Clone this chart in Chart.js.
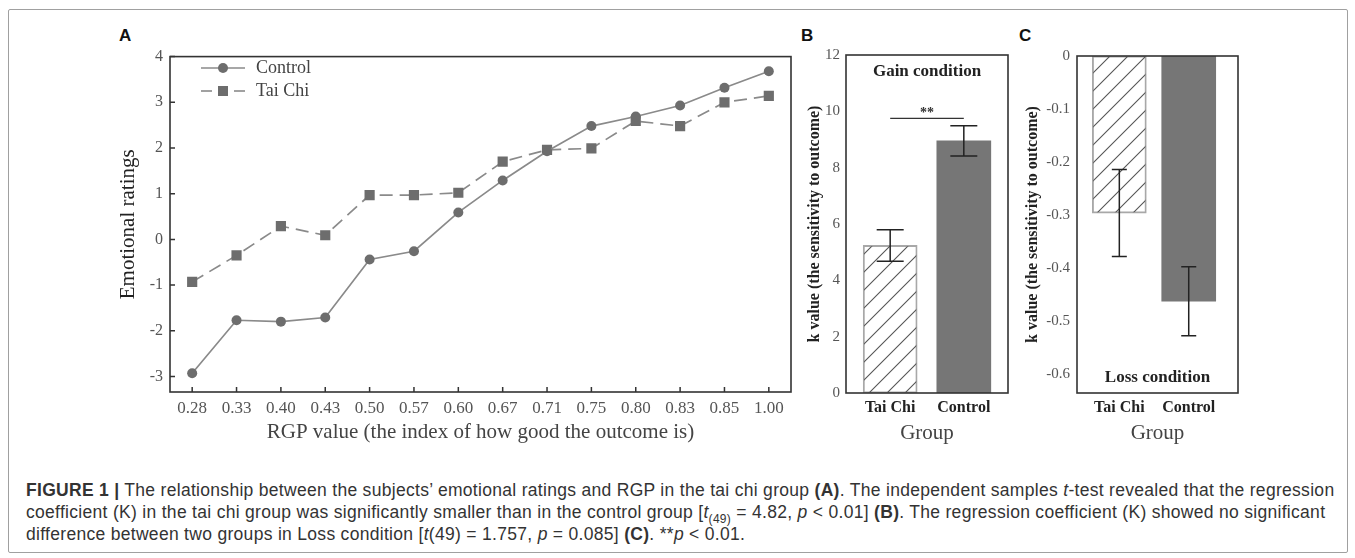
<!DOCTYPE html>
<html>
<head>
<meta charset="utf-8">
<style>
	body { margin: 0; background: #fff; }
	#fig { position: relative; width: 1355px; height: 558px; overflow: hidden; }
	.frame { position: absolute; left: 8px; top: 9px; width: 1338px; height: 542px; border: 1px solid #a0a0a0; border-radius: 2px; }
	.panel { position: absolute; }
	.letter { position: absolute; font: bold 17px "Liberation Sans", Arial, sans-serif; color: #111; }
	.legend { position: absolute; left: 200px; top: 56px; font: 18px "Liberation Serif", "Times New Roman", serif; color: #444; }
	.legend div { height: 23px; display: flex; align-items: center; }
	.legend svg { margin-right: 10px; }
	.caption { position: absolute; left: 26px; top: 479px; font: 17.5px "Liberation Sans", Arial, sans-serif; letter-spacing: 0.3px; color: #333; line-height: 22px; white-space: nowrap; }
	.caption sub { font-size: 12px; line-height: 0; }
</style>
</head>
<body>
<div id="fig">
	<div class="frame"></div>
	<div class="letter" style="left:119px; top:26px;">A</div>
	<div class="letter" style="left:801px; top:26px;">B</div>
	<div class="letter" style="left:1019px; top:26px;">C</div>

	<div class="panel" style="left:100px; top:40px; width:700px; height:410px;">
		<canvas id="panelA"></canvas>
	</div>
	<div class="panel" style="left:790px; top:40px; width:230px; height:410px;">
		<canvas id="panelB"></canvas>
	</div>
	<div class="panel" style="left:1000px; top:40px; width:260px; height:410px;">
		<canvas id="panelC"></canvas>
	</div>

	<div class="legend">
		<div>
			<svg width="46" height="14"><line x1="1" y1="7" x2="45" y2="7" stroke="#8a8a8a" stroke-width="1.6"/><circle cx="23" cy="7" r="5" fill="#6d6d6d"/></svg>
			<span>Control</span>
		</div>
		<div>
			<svg width="46" height="14"><line x1="1" y1="7" x2="12" y2="7" stroke="#8a8a8a" stroke-width="1.6"/><line x1="34" y1="7" x2="45" y2="7" stroke="#8a8a8a" stroke-width="1.6"/><rect x="18" y="2" width="10" height="10" fill="#6d6d6d"/></svg>
			<span>Tai Chi</span>
		</div>
	</div>

	<div class="caption">
		<b>FIGURE 1 |</b> The relationship between the subjects’ emotional ratings and RGP in the tai chi group <b>(A)</b>. The independent samples <i>t</i>-test revealed that the regression<br>
		coefficient (K) in the tai chi group was significantly smaller than in the control group [<i>t</i><sub>(49)</sub> = 4.82, <i>p</i> &lt; 0.01] <b>(B)</b>. The regression coefficient (K) showed no significant<br>
		difference between two groups in Loss condition [<i>t</i>(49) = 1.757, <i>p</i> = 0.085] <b>(C)</b>. **<i>p</i> &lt; 0.01.
	</div>
</div>

<script src="https://cdn.jsdelivr.net/npm/chart.js"></script>
<script>
	// panel A
	const rgpLabels = ["0.28", "0.33", "0.40", "0.43", "0.50", "0.57", "0.60", "0.67", "0.71", "0.75", "0.80", "0.83", "0.85", "1.00"];
	const controlRatings = [-2.93, -1.77, -1.80, -1.71, -0.44, -0.26, 0.59, 1.29, 1.93, 2.48, 2.69, 2.93, 3.32, 3.68];
	const taiChiRatings = [-0.93, -0.35, 0.29, 0.09, 0.97, 0.97, 1.02, 1.70, 1.96, 1.99, 2.59, 2.48, 3.00, 3.14];

	// panels B and C
	const groups = ["Tai Chi", "Control"];
	const gainK = [5.24, 8.95];
	const gainSE = [0.56, 0.54];
	const gainSigY = 9.75;
	const lossK = [-0.296, -0.462];
	const lossSE = [0.082, 0.065];

	const serif = '"Liberation Serif", "Times New Roman", serif';
	Chart.defaults.font.family = serif;
	Chart.defaults.animation = false;

	// box round the plot area
	const frameBox = {
		id: "frameBox",
		afterDraw(chart) {
			const { ctx, chartArea: a } = chart;
			ctx.save();
			ctx.strokeStyle = "#333";
			ctx.lineWidth = 1.6;
			ctx.strokeRect(a.left, a.top, a.right - a.left, a.bottom - a.top);
			ctx.restore();
		},
	};

	// small ticks pointing into the plot (panel A)
	const innerTicks = {
		id: "innerTicks",
		afterDraw(chart) {
			const { ctx, chartArea: a, scales } = chart;
			ctx.save();
			ctx.strokeStyle = "#333";
			ctx.lineWidth = 1.5;
			ctx.beginPath();
			scales.x.ticks.forEach((t, i) => {
				const px = scales.x.getPixelForTick(i);
				ctx.moveTo(px, a.bottom);
				ctx.lineTo(px, a.bottom - 5);
			});
			scales.y.ticks.forEach((t, i) => {
				const py = scales.y.getPixelForTick(i);
				ctx.moveTo(a.left, py);
				ctx.lineTo(a.left + 5, py);
			});
			ctx.stroke();
			ctx.restore();
		},
	};

	function makeHatch() {
		const s = 18;
		const c = document.createElement("canvas");
		c.width = s;
		c.height = s;
		const g = c.getContext("2d");
		g.strokeStyle = "#555";
		g.lineWidth = 1.1;
		g.beginPath();
		g.moveTo(0, s);
		g.lineTo(s, 0);
		g.moveTo(-2, 2);
		g.lineTo(2, -2);
		g.moveTo(s - 2, s + 2);
		g.lineTo(s + 2, s - 2);
		g.stroke();
		return g.createPattern(c, "repeat");
	}

	function errorBars(se, cap) {
		return {
			id: "errorBars",
			afterDatasetsDraw(chart) {
				const { ctx } = chart;
				const y = chart.scales.y;
				const ds = chart.data.datasets[0];
				ctx.save();
				ctx.strokeStyle = "#222";
				ctx.lineWidth = 1.5;
				chart.getDatasetMeta(0).data.forEach((bar, i) => {
					const v = ds.data[i].y;
					const top = y.getPixelForValue(v + se[i]);
					const bot = y.getPixelForValue(v - se[i]);
					ctx.beginPath();
					ctx.moveTo(bar.x, top);
					ctx.lineTo(bar.x, bot);
					ctx.moveTo(bar.x - cap / 2, top);
					ctx.lineTo(bar.x + cap / 2, top);
					ctx.moveTo(bar.x - cap / 2, bot);
					ctx.lineTo(bar.x + cap / 2, bot);
					ctx.stroke();
				});
				ctx.restore();
			},
		};
	}

	function conditionLabel(text, yPos) {
		return {
			id: "conditionLabel",
			afterDraw(chart) {
				const { ctx, chartArea: a } = chart;
				ctx.save();
				ctx.font = "bold 17px " + serif;
				ctx.fillStyle = "#222";
				ctx.textAlign = "center";
				ctx.textBaseline = "middle";
				ctx.fillText(text, (a.left + a.right) / 2, yPos === "top" ? a.top + 17 : a.bottom - 15);
				ctx.restore();
			},
		};
	}

	const sigMark = {
		id: "sigMark",
		afterDraw(chart) {
			const { ctx, scales } = chart;
			const x0 = scales.x.getPixelForValue(0);
			const x1 = scales.x.getPixelForValue(1);
			const py = scales.y.getPixelForValue(gainSigY);
			ctx.save();
			ctx.strokeStyle = "#333";
			ctx.lineWidth = 1.3;
			ctx.beginPath();
			ctx.moveTo(x0, py);
			ctx.lineTo(x1, py);
			ctx.stroke();
			ctx.font = "bold 14px " + serif;
			ctx.fillStyle = "#333";
			ctx.textAlign = "center";
			ctx.textBaseline = "bottom";
			ctx.fillText("**", (x0 + x1) / 2, py + 2);
			ctx.restore();
		},
	};

	new Chart(document.getElementById("panelA"), {
		type: "line",
		data: {
			labels: rgpLabels,
			datasets: [
				{
					label: "Control",
					data: controlRatings,
					borderColor: "#8a8a8a",
					borderWidth: 1.7,
					pointStyle: "circle",
					pointRadius: 5,
					pointBackgroundColor: "#6d6d6d",
					pointBorderWidth: 0,
				},
				{
					label: "Tai Chi",
					data: taiChiRatings,
					borderColor: "#8a8a8a",
					borderWidth: 1.7,
					borderDash: [13, 7],
					pointStyle: "rect",
					pointRadius: 7.2,
					pointBackgroundColor: "#6d6d6d",
					pointBorderWidth: 0,
				},
			],
		},
		options: {
			responsive: true,
			maintainAspectRatio: false,
			layout: { padding: { top: 11, right: 9, left: 0, bottom: 0 } },
			plugins: { legend: { display: false }, tooltip: { enabled: false } },
			scales: {
				x: {
					offset: true,
					grid: { display: false, drawTicks: false },
					border: { display: false },
					ticks: { color: "#555", font: { size: 17 }, padding: 6, maxRotation: 0 },
					title: {
						display: true,
						text: "RGP value (the index of how good the outcome is)",
						color: "#444",
						font: { size: 21 },
						padding: { top: 0, bottom: 5 },
					},
					afterFit(scale) { scale.height = 58; },
				},
				y: {
					min: -3.34,
					max: 4,
					grid: { display: false, drawTicks: false },
					border: { display: false },
					ticks: { stepSize: 1, includeBounds: false, color: "#555", font: { size: 16 }, padding: 7 },
					title: {
						display: true,
						text: "Emotional ratings",
						color: "#222",
						font: { size: 21 },
						padding: { top: 16, bottom: 0 },
					},
					afterFit(scale) { scale.width = 70; },
				},
			},
		},
		plugins: [frameBox, innerTicks],
	});

	function barPanel(id, values, se, cap, yOpts, xRange, padRight, yTitlePad, extra) {
		return new Chart(document.getElementById(id), {
			type: "bar",
			data: {
				datasets: [
					{
						data: values.map((v, i) => ({ x: i, y: v })),
						backgroundColor: [makeHatch(), "#767676"],
						borderColor: ["#a8a8a8", "#767676"],
						borderWidth: [1.2, 0],
						borderSkipped: false,
						barThickness: 54,
					},
				],
			},
			options: {
				responsive: true,
				maintainAspectRatio: false,
				layout: { padding: { top: 11, right: padRight, left: 0, bottom: 0 } },
				plugins: { legend: { display: false }, tooltip: { enabled: false } },
				scales: {
					x: {
						type: "linear",
						offset: false,
						min: xRange[0],
						max: xRange[1],
						grid: { display: false, drawTicks: false },
						border: { display: false },
						afterBuildTicks(scale) {
							scale.ticks = groups.map((g, i) => ({ value: i }));
						},
						ticks: {
							color: "#222",
							font: { size: 16, weight: "bold" },
							padding: 5,
							maxRotation: 0,
							callback: (v) => groups[v],
						},
						title: {
							display: true,
							text: "Group",
							color: "#444",
							font: { size: 21 },
							padding: { top: 0, bottom: 4 },
						},
						afterFit(scale) { scale.height = 57; },
					},
					y: Object.assign(
						{
							grid: { display: false, drawTicks: false },
							border: { display: false },
							title: {
								display: true,
								text: "k value (the sensitivity to outcome)",
								color: "#222",
								font: { size: 16, weight: "bold" },
								padding: { top: yTitlePad, bottom: 0 },
							},
						},
						yOpts
					),
				},
			},
			plugins: [frameBox, errorBars(se, cap)].concat(extra),
		});
	}

	barPanel(
		"panelB",
		gainK,
		gainSE,
		27,
		{
			min: 0,
			max: 12,
			ticks: { stepSize: 2, color: "#555", font: { size: 15 }, padding: 6 },
			afterFit(scale) { scale.width = 56; },
		},
		[-0.6, 1.6],
		12,
		15,
		[sigMark, conditionLabel("Gain condition", "top")]
	);

	barPanel(
		"panelC",
		lossK,
		lossSE,
		15,
		{
			min: -0.635,
			max: 0,
			ticks: {
				stepSize: 0.1,
				includeBounds: false,
				color: "#555",
				font: { size: 15 },
				padding: 7,
				callback: (v) => (Math.abs(v) < 1e-9 ? "0" : v.toFixed(1)),
			},
			afterFit(scale) { scale.width = 77; },
		},
		[-0.61, 1.71],
		22,
		23,
		[conditionLabel("Loss condition", "bottom")]
	);
</script>
</body>
</html>
